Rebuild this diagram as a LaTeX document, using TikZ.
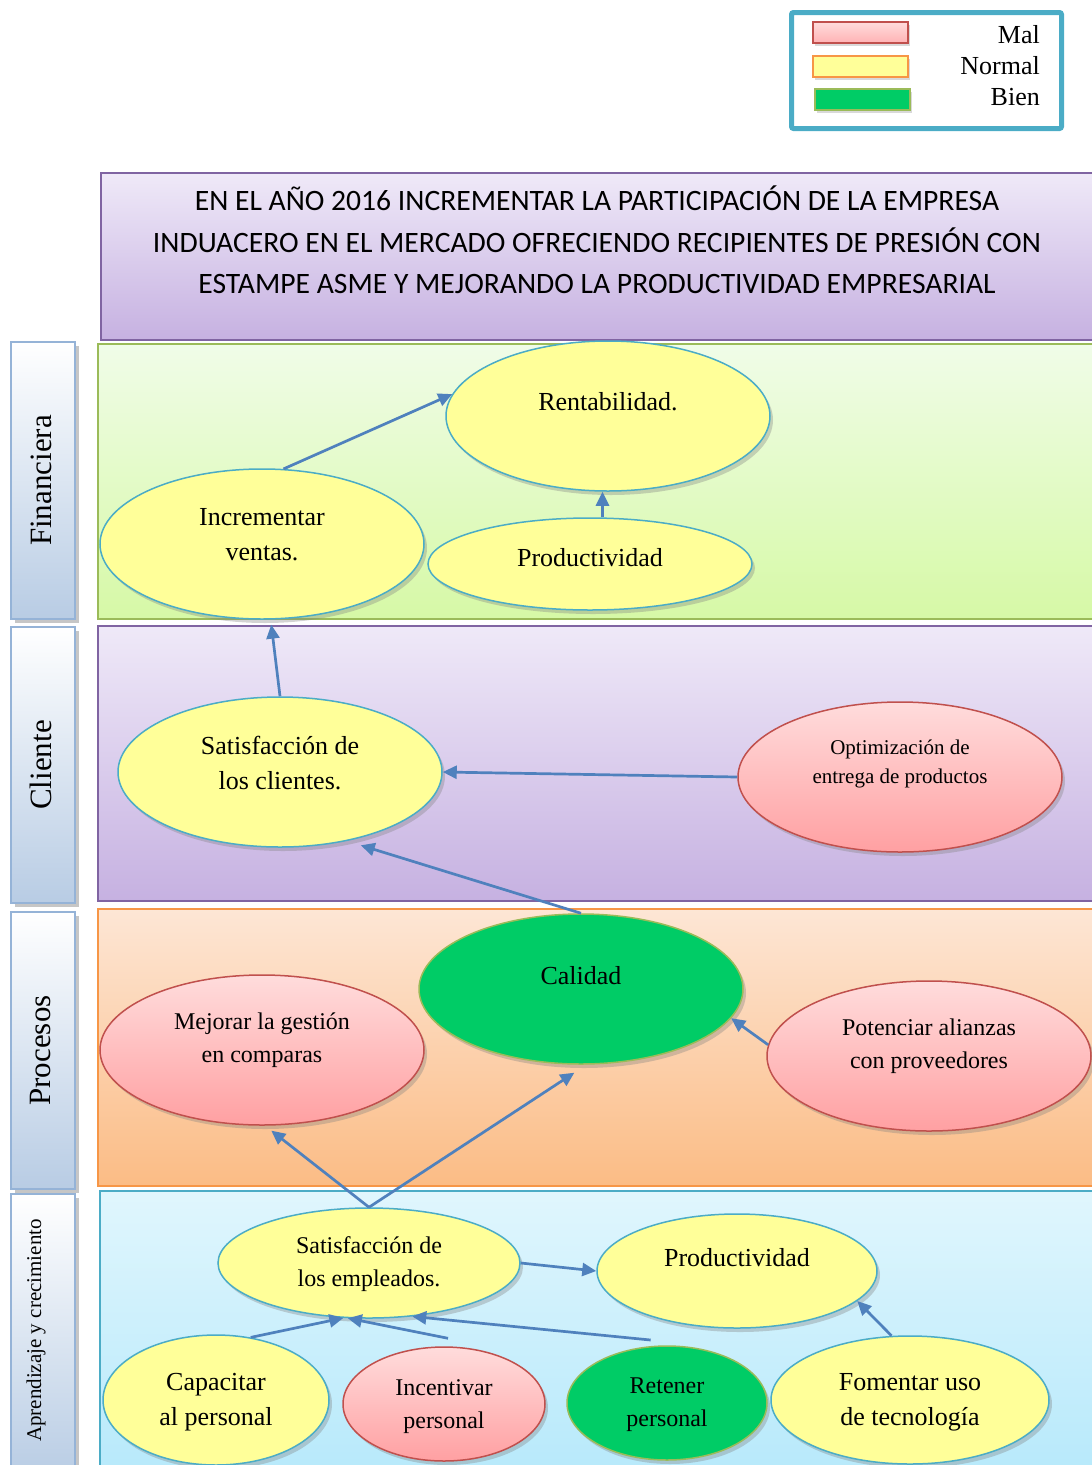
\documentclass[tikz,border=0pt]{standalone}
\usepackage{fontspec}
\setmainfont{Liberation Serif}
\newfontfamily\titlefont{Carlito}
\usetikzlibrary{shapes.geometric,shadows,arrows.meta}

\definecolor{arrowblue}{HTML}{4F81BD}
\definecolor{ovalyellow}{HTML}{FFFF99}
\definecolor{ovalteal}{HTML}{4BACC6}
\definecolor{ovalgreen}{HTML}{00CC66}
\definecolor{greenedge}{HTML}{9BBB59}
\definecolor{rededge}{HTML}{C0504D}
\definecolor{redtop}{HTML}{FFDCDC}
\definecolor{redbot}{HTML}{FFA0A2}
\definecolor{orangeedge}{HTML}{F79646}
\definecolor{purpleedge}{HTML}{8064A2}
\definecolor{purpletop}{HTML}{EFE9F8}
\definecolor{purplebot}{HTML}{C6B1E1}
\definecolor{limetop}{HTML}{F0FCE8}
\definecolor{limebot}{HTML}{D6F9A6}
\definecolor{peachtop}{HTML}{FDE6D5}
\definecolor{peachbot}{HTML}{FBBC85}
\definecolor{skytop}{HTML}{E0F6FD}
\definecolor{skybot}{HTML}{B7E9FB}
\definecolor{sideedge}{HTML}{95B3D7}
\definecolor{sidebot}{HTML}{B8CCE4}

\begin{document}
\begin{tikzpicture}[x=1pt,y=-1pt,
  dims/.style 2 args={minimum width=#1,minimum height=#2},
  conn/.style={draw=arrowblue,line width=2.7pt,-{Triangle[length=14pt,width=13pt]}},
  oval/.style={ellipse,inner sep=0pt,line width=1.5pt,
    drop shadow={shadow xshift=3pt,shadow yshift=-4pt,opacity=0.35}},
  yelo/.style={oval,draw=ovalteal,fill=ovalyellow},
  redo/.style={oval,draw=rededge,top color=redtop,bottom color=redbot},
  greo/.style={oval,draw=greenedge,fill=ovalgreen},
  txtL/.style={font=\fontsize{26}{35}\selectfont,align=center},
  txtM/.style={font=\fontsize{24}{33}\selectfont,align=center},
  txtS/.style={font=\fontsize{21}{29}\selectfont,align=center},
  panel/.style={rectangle,inner sep=0pt,line width=2pt,anchor=north west},
  sidebox/.style={rectangle,inner sep=0pt,line width=2pt,anchor=north west,
    draw=sideedge,top color=white,bottom color=sidebot,
    drop shadow={shadow xshift=4pt,shadow yshift=-4pt,opacity=0.45}},
  sidetext/.style={rotate=90,font=\fontsize{31}{31}\selectfont,yshift=2pt},
  swatch/.style={rectangle,inner sep=0pt,line width=1.5pt,anchor=north west,
    dims={95pt}{21pt},drop shadow={shadow xshift=2pt,shadow yshift=-3pt,opacity=0.3}},
  legtext/.style={anchor=east,font=\fontsize{26}{30}\selectfont,inner sep=0pt}
]
\useasboundingbox (0,0) rectangle (1092,1465);

% legend
\node[draw=ovalteal,line width=5pt,rounded corners=2pt,inner sep=0pt,anchor=north west,
  dims={270pt}{116pt}] (legend) at (789,10) {};
\node[swatch,draw=rededge,top color=redtop,bottom color=redbot!80] (sw-mal) at (812,21) {};
\node[swatch,draw=orangeedge,fill=ovalyellow] (sw-normal) at (812,55) {};
\node[swatch,draw=greenedge,fill=ovalgreen] (sw-bien) at (814,88) {};
\node[legtext] (t-mal) at (1040,35) {Mal};
\node[legtext] (t-normal) at (1040,66) {Normal};
\node[legtext] (t-bien) at (1040,97) {Bien};

% strategic objective
\node[panel,draw=purpleedge,top color=purpletop,bottom color=purplebot,dims={1000pt}{167pt}]
  (goal) at (100,172) {};
\node[font=\titlefont\fontsize{29.6}{41.5}\selectfont,align=center] (goal-t) at (597,240)
  {EN EL AÑO 2016 INCREMENTAR LA PARTICIPACIÓN DE LA EMPRESA\\
   INDUACERO EN EL MERCADO OFRECIENDO RECIPIENTES DE PRESIÓN CON\\
   ESTAMPE ASME Y MEJORANDO LA PRODUCTIVIDAD EMPRESARIAL};

% perspective bands
\node[panel,draw=greenedge,top color=limetop,bottom color=limebot,dims={1003pt}{275pt}] (band-fin) at (97,343) {};
\node[panel,draw=purpleedge,top color=purpletop,bottom color=purplebot,dims={1003pt}{275pt}] (band-cli) at (97,625) {};
\node[panel,draw=orangeedge,top color=peachtop,bottom color=peachbot,dims={1003pt}{277pt}] (band-pro) at (97,908) {};
\node[panel,draw=ovalteal,top color=skytop,bottom color=skybot,dims={1001pt}{285pt}] (band-apr) at (99,1190) {};

% perspective titles
\node[sidebox,dims={64pt}{277pt},label={[sidetext]center:Financiera}] (side-fin) at (10,341) {};
\node[sidebox,dims={64pt}{276pt},label={[sidetext]center:Cliente}] (side-cli) at (10,626) {};
\node[sidebox,dims={64pt}{277pt},label={[sidetext]center:Procesos}] (side-pro) at (10,911) {};
\node[sidebox,dims={64pt}{285pt},
  label={[rotate=90,font=\fontsize{21}{21}\selectfont,xshift=6pt,yshift=7pt]center:Aprendizaje y crecimiento}] (side-apr) at (10,1193) {};

% financial
\node[yelo,dims={324pt}{150pt},label={[txtL,yshift=14pt]center:Rentabilidad.}] (rent) at (608,416) {};
\node[yelo,dims={324pt}{150pt},label={[txtL,yshift=9pt]center:{Incrementar\\ventas.}}] (incr) at (262,544) {};
\node[yelo,dims={324pt}{92pt},label={[txtL,yshift=6pt]center:Productividad}] (prodF) at (590,564) {};

% customer
\node[yelo,dims={324pt}{150pt},label={[txtL,yshift=9pt]center:{Satisfacción de\\los clientes.}}] (satC) at (280,772) {};
\node[redo,dims={324pt}{150pt},label={[txtS,yshift=13pt]center:{Optimización de\\entrega de productos}}] (optim) at (900,777) {};

% processes
\node[greo,dims={324pt}{150pt},label={[txtL,yshift=13pt]center:Calidad}] (cal) at (581,989) {};
\node[redo,dims={324pt}{150pt},label={[txtM,yshift=10pt]center:{Mejorar la gestión\\en comparas}}] (mejor) at (262,1050) {};
\node[redo,dims={324pt}{150pt},label={[txtM,yshift=10pt]center:{Potenciar alianzas\\con proveedores}}] (poten) at (929,1056) {};

% learning and growth
\node[yelo,dims={302pt}{110pt},label={[txtM,yshift=-1pt]center:{Satisfacción de\\los empleados.}}] (satE) at (369,1263) {};
\node[yelo,dims={280pt}{114pt},label={[txtL,yshift=13pt]center:Productividad}] (prodA) at (737,1271) {};
\node[yelo,dims={226pt}{130pt},label={[txtL,yshift=-2pt]center:{Capacitar\\al personal}}] (capac) at (216,1400) {};
\node[redo,dims={202pt}{114pt},label={[txtM,yshift=-3pt]center:{Incentivar\\personal}}] (incent) at (444,1404) {};
\node[greo,dims={200pt}{114pt},label={[txtM,yshift=-2pt]center:{Retener\\personal}}] (reten) at (667,1403) {};
\node[yelo,dims={278pt}{128pt},label={[txtL,yshift=-2pt]center:{Fomentar uso\\de tecnología}}] (foment) at (910,1400) {};

% cause-effect links
\draw[conn] (incr.74) -- (rent.172);
\draw[conn] (prodF.75) -- (prodF.75 |- rent.south);
\draw[conn] (satC.north) -- ([yshift=-5pt]incr.-83);
\draw[conn] (optim.west) -- (satC.east);
\draw[conn] (cal.north) -- ([xshift=6pt,yshift=-6pt]satC.-42);
\draw[conn] (poten.176) -- (cal.-11);
\draw[conn] (satE.north) -- ([yshift=-5pt]mejor.-83);
\draw[conn] (satE.north) -- ([yshift=-8pt]cal.-95);
\draw[conn] (satE.east) -- (prodA.west);
\draw[conn] (foment.106) -- (prodA.-14);
\draw[conn] (capac.61) -- (satE.-115);
\draw[conn] ([yshift=8pt]incent.86) -- (satE.-111);
\draw[conn] ([yshift=6pt]reten.106) -- (satE.-51);
\end{tikzpicture}
\end{document}
